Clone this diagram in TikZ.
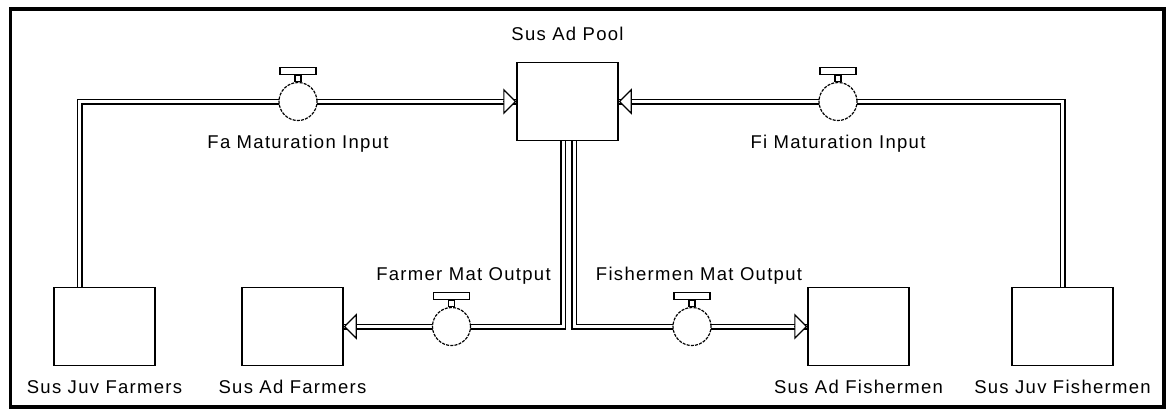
\documentclass[tikz,border=0pt]{standalone}
\usepackage{fontspec}
\newfontfamily\lblfont{Liberation Sans}[LetterSpace=7]
\usepackage{tikz}
\usetikzlibrary{positioning, arrows.meta, backgrounds, calc}
\tikzset{
  stk/.style={draw, line width=1.5pt, fill=white, minimum width=101pt,
              minimum height=78pt, inner sep=0pt},
  vlv/.style={draw, circle, line width=1.2pt, dash pattern=on 3pt off 1.2pt,
              fill=white, minimum size=38pt, inner sep=0pt},
  vstem/.style={draw, line width=1.2pt, fill=white, minimum width=6pt,
                minimum height=6pt, inner sep=0pt},
  vbar/.style={draw, line width=1.2pt, fill=white, minimum width=36pt,
               minimum height=7pt, inner sep=0pt},
  lbl/.style={font=\lblfont\fontsize{18.5}{20}\selectfont, inner sep=0pt},
  pipe/.style={line width=1.5pt, double=white, double distance=3pt},
  flowtip/.style={line width=1.2pt, -{Triangle[length=13pt, width=26pt, fill=white]}},
  frm/.style={draw, line width=3.5pt},
}

\begin{document}
\begin{tikzpicture}[x=1pt, y=-1pt]
  \useasboundingbox (0,0) rectangle (1166,410);
  % ---------- stocks ----------
  \node[stk] (pool) at (567.5,101.5) {};
  \node[stk] (jf)   at (104.5,326.5) {};
  \node[stk] (af)   at (292.5,326.5) {};
  \node[stk] (afi)  at (858.5,326.5) {};
  \node[stk] (jfi)  at (1062.5,326.5) {};
  \node[lbl, above=21pt of pool] (poolt) {Sus Ad Pool};
  \node[lbl, below=14pt of jf]  (jft)  {Sus Juv Farmers};
  \node[lbl, below=14pt of af]  (aft)  {Sus Ad Farmers};
  \node[lbl, below=14pt of afi] (afit) {Sus Ad Fishermen};
  \node[lbl, below=14pt of jfi] (jfit) {Sus Juv Fishermen};
  % ---------- valves ----------
  \node[vlv] (fav) at (298,101.5) {};
  \node[vstem, above=0pt of fav] (favs) {};
  \node[vbar, above=0pt of favs] (favb) {};
  \node[lbl, below=14pt of fav] (favt) {Fa Maturation Input};
  \node[vlv] (fiv) at (838,101.5) {};
  \node[vstem, above=0pt of fiv] (fivs) {};
  \node[vbar, above=0pt of fivs] (fivb) {};
  \node[lbl, below=14pt of fiv] (fivt) {Fi Maturation Input};
  \node[vlv] (fmv) at (451.5,326.5) {};
  \node[vstem, above=0pt of fmv] (fmvs) {};
  \node[vbar, above=0pt of fmvs] (fmvb) {};
  \node[lbl, above=6.5pt of fmvb, xshift=12pt] (fmvt) {Farmer Mat Output};
  \node[vlv] (fsv) at (692,326.5) {};
  \node[vstem, above=0pt of fsv] (fsvs) {};
  \node[vbar, above=0pt of fsvs] (fsvb) {};
  \node[lbl, above=6.5pt of fsvb, xshift=7pt] (fsvt) {Fishermen Mat Output};
  % ---------- pipes ----------
  \begin{scope}[on background layer]
    \draw[pipe] ($(jf.north west)!0.26!(jf.north east)$) |- (pool.west);
    \draw[pipe] (jfi.north) |- (pool.east);
    \draw[pipe] ($(pool.south)+(-4.5,0)$) |- (af.east);
    \draw[pipe] ($(pool.south)+(6.5,0)$) |- (afi.west);
  \end{scope}
  \coordinate[left=13pt of pool.west] (pooli);
  \coordinate[right=13pt of pool.east] (poolo);
  \coordinate[right=13pt of af.east] (afi0);
  \coordinate[left=13pt of afi.west] (afii);
  \draw[flowtip] (pooli) -- (pool.west);
  \draw[flowtip] (poolo) -- (pool.east);
  \draw[flowtip] (afi0) -- (af.east);
  \draw[flowtip] (afii) -- (afi.west);
  % ---------- frame ----------
  \draw[frm] (10.5,9) rectangle (1164,407);
\end{tikzpicture}
\end{document}
